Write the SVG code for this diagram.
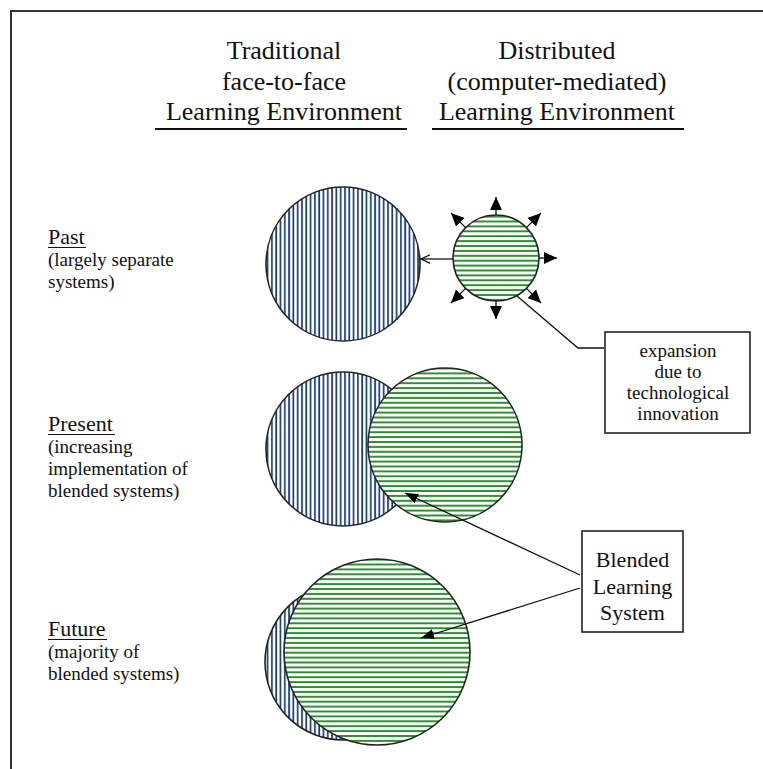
<svg xmlns="http://www.w3.org/2000/svg" width="763" height="769" viewBox="0 0 763 769">
  <style>
    text { font-family: "Liberation Serif", "Times New Roman", serif; fill: #111; }
    .head { font-size: 26px; text-anchor: middle; }
    .era { font-size: 22px; }
    .sub { font-size: 19px; }
    .note { font-size: 19px; text-anchor: middle; }
    .blend { font-size: 22px; text-anchor: middle; }
    .rule { stroke: #111; stroke-width: 2; }
    .thin { stroke: #111; stroke-width: 1.2; }
    .ring { stroke: #222; stroke-width: 1.6; }
    .trad { fill: url(#vhatch); }
    .dist { fill: url(#hhatch); }
    .box { fill: #fff; stroke: #222; stroke-width: 1.6; }
    .conn { fill: none; stroke: #111; stroke-width: 1.3; }
  </style>
  <defs>
    <pattern id="vhatch" width="4.3" height="10" patternUnits="userSpaceOnUse">
      <rect width="4.3" height="10" fill="#fff"/>
      <line x1="1" y1="0" x2="1" y2="10" stroke="#163a6b" stroke-width="1.7"/>
    </pattern>
    <pattern id="hhatch" width="10" height="4.9" patternUnits="userSpaceOnUse">
      <rect width="10" height="4.9" fill="#fff"/>
      <line x1="0" y1="1" x2="10" y2="1" stroke="#107c14" stroke-width="1.7"/>
    </pattern>
    <marker id="tri" markerWidth="13" markerHeight="12" refX="13" refY="6" orient="auto" markerUnits="userSpaceOnUse">
      <path d="M0,0 L13,6 L0,12 z" fill="#000"/>
    </marker>
    <marker id="bigtri" markerWidth="13" markerHeight="10" refX="13" refY="5" orient="auto" markerUnits="userSpaceOnUse">
      <path d="M0,0 L13,5 L0,10 z" fill="#000"/>
    </marker>
    <marker id="open" markerWidth="10" markerHeight="10" refX="9" refY="5" orient="auto" markerUnits="userSpaceOnUse">
      <path d="M0,0.8 L9,5 L0,9.2" fill="none" stroke="#000" stroke-width="1.2"/>
    </marker>
  </defs>

  <rect width="763" height="769" fill="#fff"/>
  <!-- page frame -->
  <path d="M11,769 V11 H763" fill="none" stroke="#333" stroke-width="2"/>

  <!-- column headings -->
  <g id="heading-traditional">
    <text class="head" x="284" y="59">Traditional</text>
    <text class="head" x="284" y="89.5">face-to-face</text>
    <text class="head" x="284" y="120">Learning Environment</text>
    <line class="rule" x1="155" y1="129" x2="407" y2="129"/>
  </g>
  <g id="heading-distributed">
    <text class="head" x="557" y="59">Distributed</text>
    <text class="head" x="557" y="89.5">(computer-mediated)</text>
    <text class="head" x="557" y="120">Learning Environment</text>
    <line class="rule" x1="432" y1="129" x2="684" y2="129"/>
  </g>

  <!-- row labels -->
  <g id="label-past">
    <text class="era" x="48" y="244">Past</text>
    <line class="thin" x1="48" y1="247.5" x2="86" y2="247.5"/>
    <text class="sub" x="48" y="266">(largely separate</text>
    <text class="sub" x="48" y="288">systems)</text>
  </g>
  <g id="label-present">
    <text class="era" x="48" y="431">Present</text>
    <line class="thin" x1="48" y1="434.5" x2="115" y2="434.5"/>
    <text class="sub" x="48" y="453">(increasing</text>
    <text class="sub" x="48" y="475">implementation of</text>
    <text class="sub" x="48" y="497">blended systems)</text>
  </g>
  <g id="label-future">
    <text class="era" x="48" y="636">Future</text>
    <line class="thin" x1="48" y1="639.5" x2="107" y2="639.5"/>
    <text class="sub" x="48" y="658">(majority of</text>
    <text class="sub" x="48" y="680">blended systems)</text>
  </g>

  <!-- past: separate systems -->
  <g id="past-traditional">
    <circle class="ring trad" cx="343" cy="264" r="77"/>
  </g>
  <g id="past-distributed">
    <circle class="ring dist" cx="496" cy="258" r="43"/>
  </g>

  <!-- present: overlapping systems -->
  <g id="present-traditional">
    <circle class="ring trad" cx="343" cy="449" r="77"/>
  </g>
  <g id="present-distributed">
    <circle class="ring dist" cx="445" cy="445" r="77"/>
  </g>

  <!-- future: mostly blended -->
  <g id="future-traditional">
    <circle class="ring trad" cx="343" cy="662" r="78"/>
  </g>
  <g id="future-distributed">
    <circle class="ring dist" cx="377" cy="652" r="93"/>
  </g>

  <!-- callout boxes -->
  <g id="note-expansion">
    <rect class="box" x="605" y="332" width="145" height="101"/>
    <text class="note" x="678" y="357">expansion</text>
    <text class="note" x="678" y="378">due to</text>
    <text class="note" x="678" y="399">technological</text>
    <text class="note" x="678" y="420">innovation</text>
  </g>
  <g id="note-blended">
    <rect class="box" x="582" y="531" width="101" height="101"/>
    <text class="blend" x="632.5" y="567">Blended</text>
    <text class="blend" x="632.5" y="594">Learning</text>
    <text class="blend" x="632.5" y="620">System</text>
  </g>

  <g id="connectors">
    <!-- distributed system feeding the traditional one -->
    <line class="conn" x1="453" y1="259" x2="421" y2="259" marker-end="url(#open)"/>
    <!-- outward expansion -->
    <line class="conn" x1="496" y1="215" x2="496" y2="197" marker-end="url(#tri)"/>
    <line class="conn" x1="539" y1="258" x2="557" y2="258" marker-end="url(#tri)"/>
    <line class="conn" x1="496" y1="301" x2="496" y2="319" marker-end="url(#tri)"/>
    <line class="conn" x1="526.4" y1="227.6" x2="541" y2="213" marker-end="url(#tri)"/>
    <line class="conn" x1="465.6" y1="227.6" x2="451" y2="213" marker-end="url(#tri)"/>
    <line class="conn" x1="465.6" y1="288.4" x2="451" y2="303" marker-end="url(#tri)"/>
    <line class="conn" x1="526.4" y1="288.4" x2="541" y2="303" marker-end="url(#tri)"/>
    <!-- expansion callout leader -->
    <polyline class="conn" points="517,296 578,348 604,348"/>
    <!-- blended system pointers -->
    <line class="conn" x1="580" y1="575" x2="405" y2="493" marker-end="url(#bigtri)"/>
    <line class="conn" x1="580" y1="588" x2="421" y2="638" marker-end="url(#bigtri)"/>
  </g>
</svg>
